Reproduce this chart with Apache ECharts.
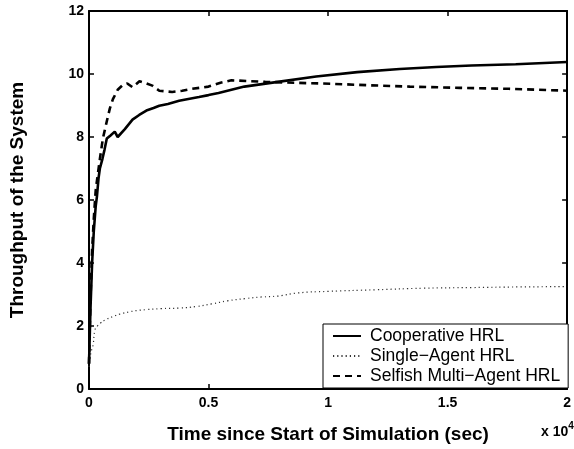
<!DOCTYPE html>
<html>
<head>
<meta charset="utf-8">
<script src="https://cdn.jsdelivr.net/npm/echarts@6/dist/echarts.min.js"></script>
<style>
  html, body { margin: 0; padding: 0; background: #fff; }
  #chart { width: 574px; height: 449px; }
</style>
</head>
<body>
<div id="chart"></div>
<script>
// time (sec) and throughput per curve
const coopTime = [0, 60, 130, 200, 280, 330, 400, 455, 560, 650, 745, 900, 1077, 1200, 1280, 1500, 1820, 2100, 2400, 2700, 2940, 3300, 3770, 4100, 4600, 5000, 5420, 6500, 7900, 9500, 11220, 13000, 14530, 16000, 17850, 20000];
const coopVal  = [0.8, 2.5, 4.0, 5.0, 5.8, 6.1, 6.7, 7.0, 7.3, 7.6, 7.95, 8.05, 8.17, 8.0, 8.05, 8.25, 8.55, 8.7, 8.84, 8.92, 8.99, 9.05, 9.15, 9.2, 9.27, 9.33, 9.4, 9.6, 9.75, 9.92, 10.06, 10.16, 10.22, 10.27, 10.31, 10.38];

const singleTime = [0, 80, 170, 250, 350, 455, 700, 1000, 1300, 1700, 2000, 2400, 3000, 3770, 4500, 5130, 5800, 6540, 7200, 7910, 8740, 10000, 12000, 14000, 16000, 18000, 20000];
const singleVal  = [0.7, 1.15, 1.4, 1.88, 2.0, 2.08, 2.2, 2.3, 2.38, 2.45, 2.49, 2.52, 2.55, 2.57, 2.62, 2.7, 2.8, 2.87, 2.92, 2.95, 3.05, 3.1, 3.15, 3.2, 3.22, 3.24, 3.25];

const selfishTime = [0, 60, 130, 200, 280, 330, 455, 580, 745, 870, 1000, 1200, 1410, 1600, 1820, 2110, 2400, 2650, 2940, 3200, 3480, 3900, 4310, 5000, 5500, 5960, 7370, 8700, 10100, 11800, 13420, 15500, 17560, 20000];
const selfishVal  = [0.8, 2.8, 4.4, 5.4, 6.3, 6.6, 7.3, 7.95, 8.5, 8.9, 9.2, 9.5, 9.65, 9.7, 9.58, 9.77, 9.7, 9.63, 9.47, 9.45, 9.43, 9.47, 9.53, 9.6, 9.72, 9.8, 9.75, 9.72, 9.69, 9.64, 9.6, 9.56, 9.53, 9.47];

const seriesNames = ['Cooperative HRL', 'Single\u2212Agent HRL', 'Selfish Multi\u2212Agent HRL'];

const FONT = '"Liberation Sans", Arial, Helvetica, sans-serif';

function pairs(xs, ys) {
  return xs.map((x, i) => [x, ys[i]]);
}

const chart = echarts.init(document.getElementById('chart'));

const axisCommon = {
  axisLine: { show: true, onZero: false, lineStyle: { color: '#000', width: 2 } },
  axisTick: { show: true, inside: true, length: 5, lineStyle: { color: '#000', width: 1.5 } },
  splitLine: { show: false }
};

chart.setOption({
  animation: false,
  backgroundColor: '#fff',
  grid: { left: 89, right: 2, top: 11, bottom: 56 },
  legend: {
    orient: 'vertical',
    left: 323,
    top: 324,
    padding: [3, 8, 3, 9],
    itemGap: 2,
    itemWidth: 28,
    itemHeight: 18,
    backgroundColor: '#fff',
    borderColor: '#000',
    borderWidth: 1,
    itemStyle: { opacity: 0 },
    textStyle: { fontFamily: FONT, fontSize: 17.5, color: '#000', padding: [0, 0, 0, 4] },
    data: seriesNames
  },
  xAxis: [
    Object.assign({
      type: 'value', min: 0, max: 20000, interval: 5000,
      axisLabel: {
        margin: 7, color: '#000', fontFamily: FONT, fontWeight: 'bold', fontSize: 14,
        formatter: v => String(v / 10000)
      },
      name: 'Time since Start of Simulation (sec)',
      nameLocation: 'middle',
      nameGap: 36,
      nameTextStyle: { fontFamily: FONT, fontWeight: 'bold', fontSize: 19, color: '#000' }
    }, axisCommon),
    Object.assign({
      type: 'value', min: 0, max: 20000, interval: 5000, position: 'top',
      axisLabel: { show: false }
    }, axisCommon)
  ],
  yAxis: [
    Object.assign({
      type: 'value', min: 0, max: 12, interval: 2,
      axisLabel: { margin: 5, color: '#000', fontFamily: FONT, fontWeight: 'bold', fontSize: 14 },
      name: 'Throughput of the System',
      nameLocation: 'middle',
      nameGap: 62,
      nameTextStyle: { fontFamily: FONT, fontWeight: 'bold', fontSize: 19, color: '#000' }
    }, axisCommon),
    Object.assign({
      type: 'value', min: 0, max: 12, interval: 2, position: 'right',
      axisLabel: { show: false }
    }, axisCommon)
  ],
  graphic: [{
    type: 'text',
    left: 541,
    top: 421,
    style: {
      text: '{b|x 10}{s|4}',
      rich: {
        b: { fontFamily: FONT, fontWeight: 'bold', fontSize: 14, fill: '#000', verticalAlign: 'bottom' },
        s: { fontFamily: FONT, fontWeight: 'bold', fontSize: 10, fill: '#000', verticalAlign: 'top', padding: [0, 0, 8, 0] }
      }
    }
  }],
  series: [
    {
      name: seriesNames[0], type: 'line', symbol: 'none', smooth: false,
      lineStyle: { color: '#000', width: 2.6, type: 'solid' },
      itemStyle: { color: '#000' },
      data: pairs(coopTime, coopVal), z: 3
    },
    {
      name: seriesNames[1], type: 'line', symbol: 'none', smooth: true,
      lineStyle: { color: '#333', width: 1.2, type: [1.2, 3] },
      itemStyle: { color: '#333' },
      data: pairs(singleTime, singleVal), z: 2
    },
    {
      name: seriesNames[2], type: 'line', symbol: 'none', smooth: false,
      lineStyle: { color: '#000', width: 2.6, type: [7, 5] },
      itemStyle: { color: '#000' },
      data: pairs(selfishTime, selfishVal), z: 2
    }
  ]
});
</script>
</body>
</html>
